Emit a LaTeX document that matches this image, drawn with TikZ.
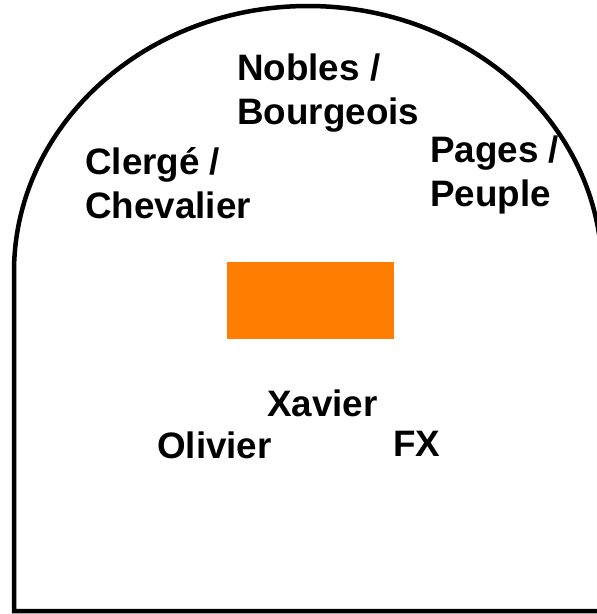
\documentclass[tikz,border=0pt]{standalone}
\usepackage{fontspec}
\setmainfont{Liberation Sans}
\definecolor{blockorange}{RGB}{255,125,0}
\tikzset{lbl/.style={font=\fontsize{36.8}{44}\selectfont\bfseries, inner sep=0, align=left, anchor=north west}}

\begin{document}
\begin{tikzpicture}[x=1pt,y=-1pt]
    \useasboundingbox (0,0) rectangle (597,614);
    \draw [line width=4.5pt] (14,611) -- (14,272) arc [start angle=180, end angle=0, x radius=294pt, y radius=266pt] -- (602,611) -- cycle;
    \node (block) [fill=blockorange, minimum width=167pt, minimum height=77pt, inner sep=0] at (310.5,300.5) {};
    \node (nobles) [lbl] at (237,53.5) {Nobles /\\Bourgeois};
    \node (clerge) [lbl] at (85,147.5) {Clergé /\\Chevalier};
    \node (pages) [lbl] at (430,135.5) {Pages /\\Peuple};
    \node (xavier) [lbl] at (267,389.5) {Xavier};
    \node (olivier) [lbl] at (157,431.5) {Olivier};
    \node (fx) [lbl] at (393,430.5) {FX};
\end{tikzpicture}
\end{document}
